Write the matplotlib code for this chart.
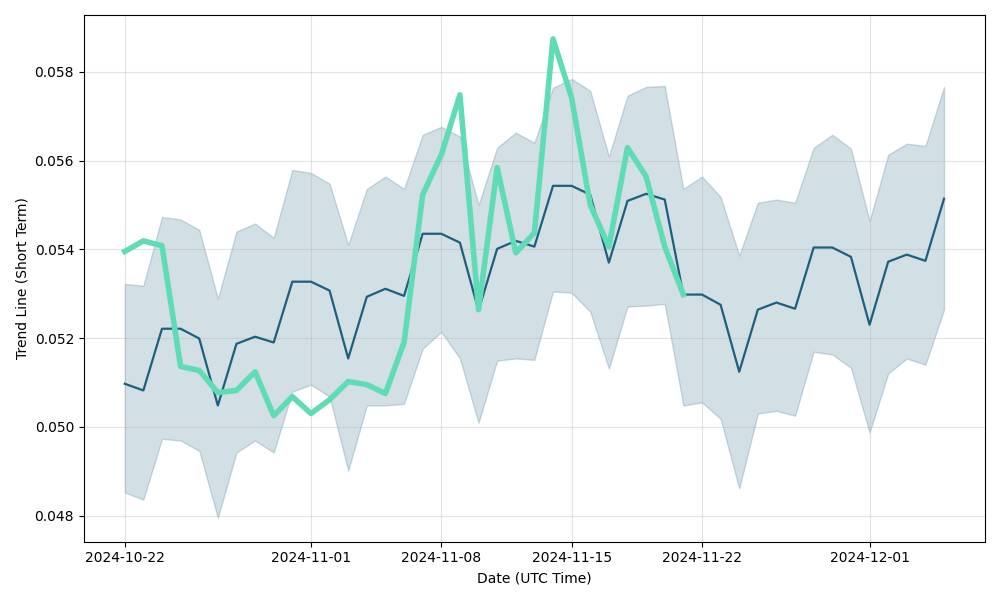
import matplotlib
matplotlib.use('Agg')
import matplotlib.pyplot as plt
import matplotlib.dates as mdates
import numpy as np
import pandas as pd

# daily dates
dates = pd.date_range('2024-10-22', '2024-12-05', freq='D')

# trend line (mean)
trend = [0.05097, 0.05082, 0.05221, 0.05221, 0.05199, 0.05048, 0.05187, 0.05203,
         0.05190, 0.05327, 0.05327, 0.05307, 0.05154, 0.05293, 0.05311, 0.05295,
         0.05435, 0.05435, 0.05415, 0.05262, 0.05401, 0.05419, 0.05406, 0.05543,
         0.05543, 0.05523, 0.05370, 0.05509, 0.05525, 0.05512, 0.05298, 0.05298,
         0.05275, 0.05124, 0.05264, 0.05280, 0.05266, 0.05404, 0.05404, 0.05383,
         0.05230, 0.05372, 0.05388, 0.05374, 0.05514]

upper = [0.05322, 0.05318, 0.05473, 0.05467, 0.05444, 0.05289, 0.05440, 0.05458,
         0.05426, 0.05579, 0.05572, 0.05548, 0.05410, 0.05536, 0.05564, 0.05536,
         0.05658, 0.05676, 0.05654, 0.05500, 0.05629, 0.05663, 0.05640, 0.05764,
         0.05784, 0.05757, 0.05609, 0.05746, 0.05766, 0.05768, 0.05536, 0.05564,
         0.05518, 0.05386, 0.05505, 0.05512, 0.05505, 0.05629, 0.05658, 0.05627,
         0.05464, 0.05613, 0.05638, 0.05633, 0.05766]

lower = [0.04852, 0.04836, 0.04973, 0.04969, 0.04946, 0.04795, 0.04942, 0.04969,
         0.04942, 0.05079, 0.05095, 0.05068, 0.04901, 0.05048, 0.05048, 0.05052,
         0.05176, 0.05214, 0.05154, 0.05009, 0.05149, 0.05154, 0.05151, 0.05305,
         0.05302, 0.05259, 0.05131, 0.05271, 0.05273, 0.05277, 0.05048, 0.05055,
         0.05018, 0.04861, 0.05030, 0.05036, 0.05025, 0.05169, 0.05163, 0.05133,
         0.04987, 0.05120, 0.05154, 0.05140, 0.05264]

# actual price (first 31 days)
actual = [0.05395, 0.05419, 0.05408, 0.05136, 0.05127, 0.05077, 0.05082, 0.05124,
          0.05025, 0.05068, 0.05030, 0.05061, 0.05102, 0.05095, 0.05075, 0.05190,
          0.05523, 0.05613, 0.05748, 0.05264, 0.05584, 0.05392, 0.05437, 0.05874,
          0.05741, 0.05500, 0.05406, 0.05629, 0.05564, 0.05406, 0.05298]

tick_dates = ['2024-10-22', '2024-11-01', '2024-11-08', '2024-11-15', '2024-11-22', '2024-12-01']

dark = '#1e5f7e'
green = '#5fdcb5'

fig, ax = plt.subplots(figsize=(10, 6), dpi=100)

ax.fill_between(dates, lower, upper, color=dark, alpha=0.2)
ax.plot(dates, trend, color=dark, linewidth=1.6)
ax.plot(dates[:len(actual)], actual, color=green, linewidth=4)

ax.set_xticks(pd.to_datetime(tick_dates))
ax.xaxis.set_major_formatter(mdates.DateFormatter('%Y-%m-%d'))
ax.grid(True, alpha=0.35)
ax.set_xlabel('Date (UTC Time)')
ax.set_ylabel('Trend Line (Short Term)')

plt.tight_layout()
plt.savefig('out.png')
